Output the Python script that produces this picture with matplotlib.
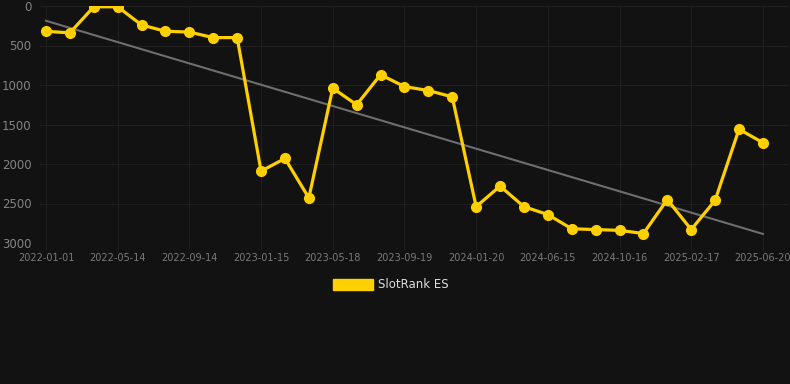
import matplotlib
matplotlib.use("Agg")
import matplotlib.pyplot as plt
import numpy as np

# rank values, one per snapshot (evenly spaced on a category axis)
ranks = [320, 340, 10, 10, 240, 320, 330, 400, 400, 2090, 1930, 2430, 1040, 1250,
         870, 1020, 1070, 1150, 2540, 2280, 2540, 2640, 2820, 2830, 2840, 2880,
         2450, 2830, 2460, 1560, 1730]
tick_labels = ['2022-01-01', '2022-05-14', '2022-09-14', '2023-01-15', '2023-05-18',
               '2023-09-19', '2024-01-20', '2024-06-15', '2024-10-16', '2025-02-17',
               '2025-06-20']
y_ticks = [0, 500, 1000, 1500, 2000, 2500, 3000]

bg = '#121212'
x = np.arange(len(ranks))

fig = plt.figure(figsize=(7.9, 3.84), dpi=100, facecolor=bg)
ax = fig.add_axes([40/790, 1-243/384, 748/790, 237/384], facecolor=bg)

# linear trend through the series
k, b = np.polyfit(x, ranks, 1)
ax.plot(x, k*x+b, color='#6e6e6e', lw=1.5, zorder=2)

ax.plot(x, ranks, color='#ffd000', lw=2.3, marker='o', ms=7, zorder=3)

ax.set_xlim(-0.25, 31.05)
ax.set_ylim(3000, 0)
ax.set_yticks(y_ticks)
ax.set_xticks(x[::3])
ax.set_xticklabels(tick_labels)
ax.grid(True, color='#1f1f1f', lw=0.8)
ax.set_axisbelow(True)
for s in ax.spines.values():
    s.set_visible(False)
ax.tick_params(axis='y', labelcolor='#848484', labelsize=8.5, length=0, pad=6)
ax.tick_params(axis='x', labelcolor='#7a7a7a', color='#1f1f1f', labelsize=7,
               length=5, width=0.8, pad=2)

# legend
fig.patches.append(plt.Rectangle((333/790, 1-290/384), 40/790, 11/384,
                                 transform=fig.transFigure, color='#ffd000'))
fig.text(378/790, 1-285/384, 'SlotRank ES', color='#dddddd', fontsize=8.5, va='center')

plt.savefig('out.png', dpi=100, facecolor=bg)
